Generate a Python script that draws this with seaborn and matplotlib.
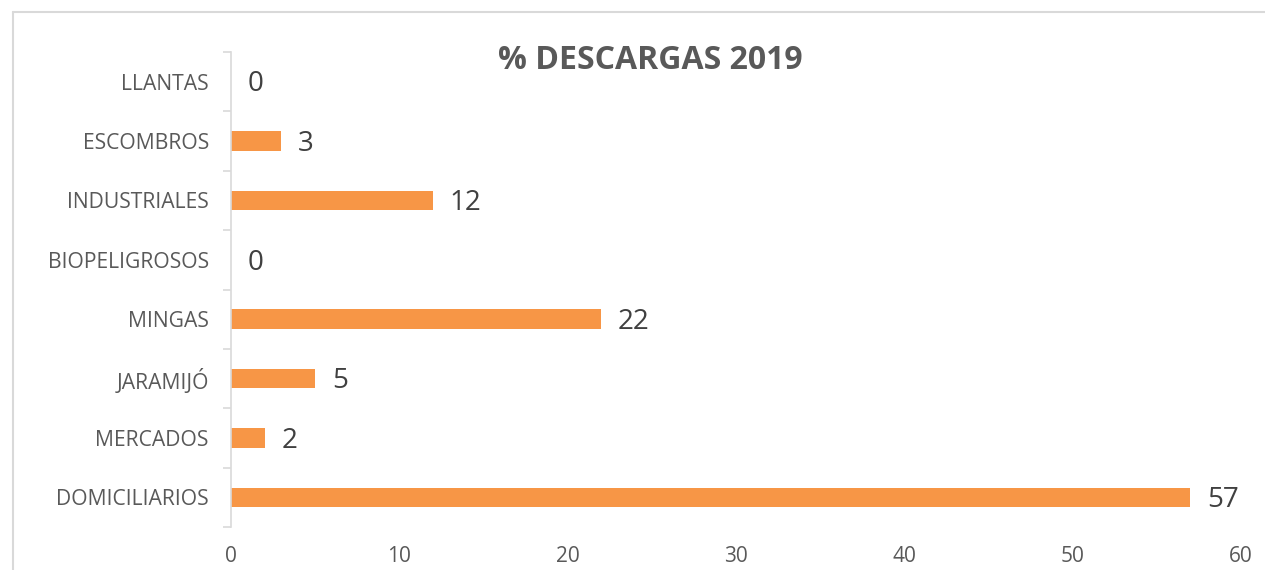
import matplotlib
matplotlib.use("Agg")
import matplotlib.pyplot as plt
import seaborn as sns
import pandas as pd
from matplotlib.lines import Line2D

# values (top to bottom)
categorias = ["LLANTAS", "ESCOMBROS", "INDUSTRIALES", "BIOPELIGROSOS",
              "MINGAS", "JARAMIJÓ", "MERCADOS", "DOMICILIARIOS"]
porcentajes = [0, 3, 12, 0, 22, 5, 2, 57]
xticks = [0, 10, 20, 30, 40, 50, 60]

df = pd.DataFrame({"categoria": categorias, "valor": porcentajes})

sns.set_theme(style="white")
plt.rcParams["font.family"] = ["Open Sans", "DejaVu Sans"]

gris = "#595959"
naranja = "#F79646"

fig = plt.figure(figsize=(12.65, 5.7), dpi=100)
ax = fig.add_axes([0.1826, 0.0754, 0.9810 - 0.1826, 0.9088 - 0.0754])

sns.barplot(data=df, x="valor", y="categoria", color=naranja, width=0.33,
            saturation=1, ax=ax, edgecolor="none")

ax.set_xlim(0, 60)
ax.set_ylim(7.5, -0.5)
ax.set_xticks(xticks)
ax.set_xticklabels([str(t) for t in xticks], fontsize=15, color=gris)
ax.tick_params(axis="x", length=0, pad=14)
ax.tick_params(axis="y", which="major", length=0, pad=16, labelsize=15.2, labelcolor=gris)
ax.set_yticks([i - 0.5 for i in range(len(categorias) + 1)], minor=True)
ax.tick_params(axis="y", which="minor", left=True, length=6, color="#D9D9D9", width=1.2)
ax.set_xlabel("")
ax.set_ylabel("")

for s in ["top", "right", "bottom"]:
    ax.spines[s].set_visible(False)
ax.spines["left"].set_color("#D9D9D9")
ax.spines["left"].set_linewidth(1.2)

for i, v in enumerate(porcentajes):
    ax.annotate(str(v), (v, i), xytext=(12, -2), textcoords="offset points",
                va="center", ha="left", fontsize=20, color="#404040")

fig.text(0.514, 0.893, "% DESCARGAS 2019", ha="center", va="center",
         fontsize=23, fontweight="bold", color=gris)

# outer chart frame (top and left edges visible)
fig.add_artist(Line2D([0.0103, 1.0], [0.9781, 0.9781], transform=fig.transFigure,
                      color="#D9D9D9", lw=1.5))
fig.add_artist(Line2D([0.0103, 0.0103], [0.0, 0.9781], transform=fig.transFigure,
                      color="#D9D9D9", lw=1.5))

fig.savefig("out.png", dpi=100)
